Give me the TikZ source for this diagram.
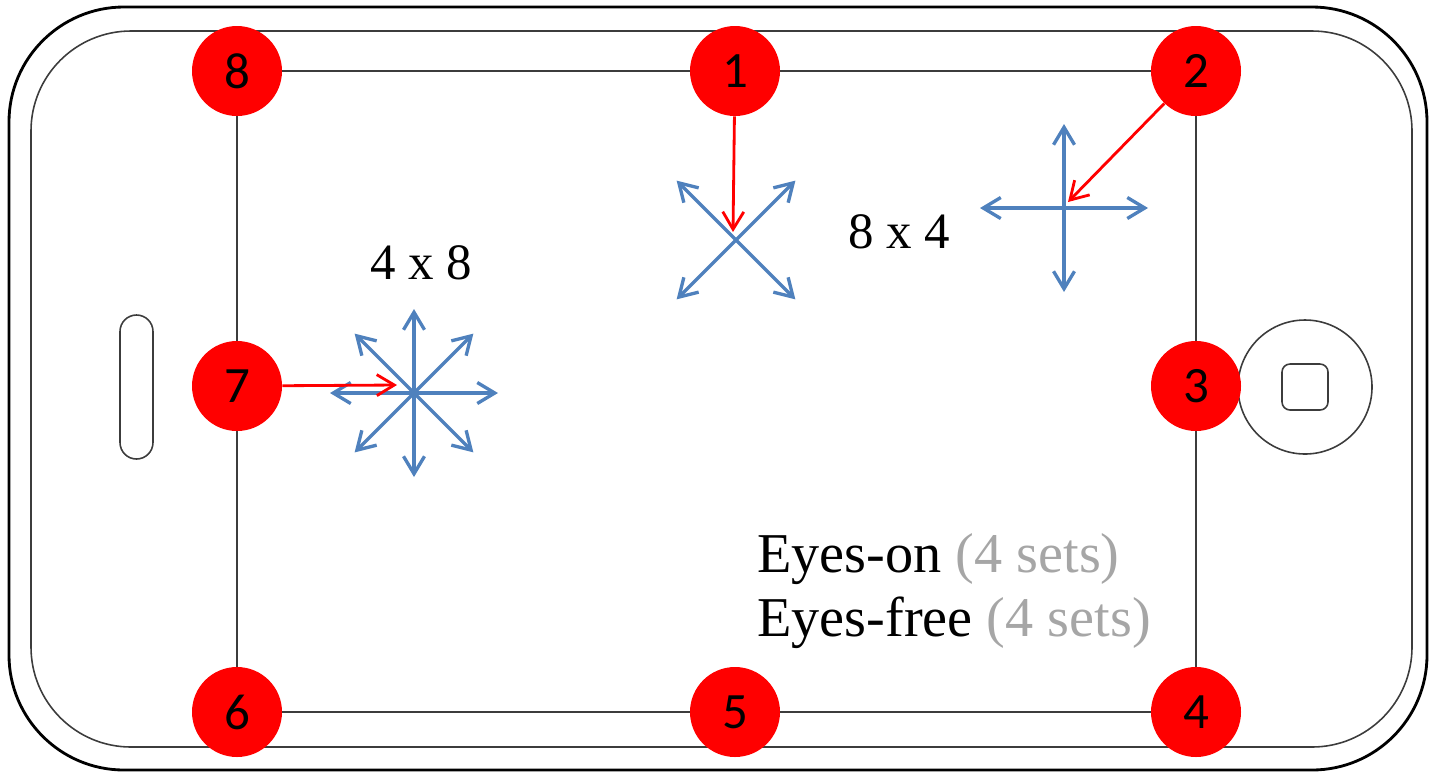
\documentclass[tikz,border=0pt]{standalone}
\usepackage{fontspec}
\setmainfont{Liberation Serif}
\newfontfamily\numfont{Carlito}
\usepackage{tikz}
\usetikzlibrary{arrows.meta}
\definecolor{dotred}{RGB}{255, 0, 0}
\definecolor{dirblue}{RGB}{79, 129, 189}
\definecolor{setgray}{RGB}{166, 166, 166}
\definecolor{caseline}{RGB}{60, 60, 60}

\begin{document}
\begin{tikzpicture}[x=0.2mm, y=-0.2mm,
  spot/.style={circle, fill=dotred, minimum size=18mm, inner sep=0pt, font=\numfont\fontsize{29}{29}\selectfont},
  dirarrow/.style={draw=dirblue, line width=1.9pt, {Straight Barb[length=3.5mm, width=4.2mm]}-{Straight Barb[length=3.5mm, width=4.2mm]}},
  hintarrow/.style={draw=dotred, line width=1.6pt, -{Straight Barb[length=3.5mm, width=4.2mm]}},
  sizetext/.style={inner sep=0pt, font=\fontsize{29}{34}\selectfont},
  eyetext/.style={inner sep=0pt, anchor=base west, font=\fontsize{32}{36}\selectfont}]
  \useasboundingbox (0,0) rectangle (1431,774);

  % phone body
  \draw[line width=1.6pt, rounded corners=23mm] (9,7) rectangle (1427,770);
  \draw[caseline, line width=0.9pt, rounded corners=20mm] (31,31) rectangle (1412,747);
  \draw[caseline, line width=0.9pt, rounded corners=3.3mm] (120,315) rectangle (153,459);
  \node[circle, draw=caseline, line width=0.9pt, minimum size=26.8mm, inner sep=0pt] (home) at (1305,387) {};
  \node[draw=caseline, line width=0.9pt, rounded corners=1.6mm, minimum size=9.2mm, inner sep=0pt] (homekey) at (home) {};

  % screen
  \draw[caseline, line width=1.1pt] (237,71) rectangle (1196,712);

  % starting spots
  \node[spot] (c1) at (735,71) {1};
  \node[spot] (c2) at (1196,71) {2};
  \node[spot] (c3) at (1196,386) {3};
  \node[spot] (c4) at (1196,712) {4};
  \node[spot] (c5) at (735,712) {5};
  \node[spot] (c6) at (237,712) {6};
  \node[spot] (c7) at (237,386) {7};
  \node[spot] (c8) at (237,71) {8};

  % direction sets
  \coordinate (sX) at (736,240);
  \coordinate (sPlus) at (1064,208);
  \coordinate (sStar) at (414,393);
  \foreach \a in {45,135}
    \draw[dirarrow] (sX) ++(\a:84) -- ++(\a+180:168);
  \foreach \a in {0,90}
    \draw[dirarrow] (sPlus) ++(\a:84) -- ++(\a+180:168);
  \foreach \a in {0,45,90,135}
    \draw[dirarrow] (sStar) ++(\a:84) -- ++(\a+180:168);

  % which spot feeds which set
  \coordinate (t1) at (733,232);
  \coordinate (t2) at (1068,202);
  \coordinate (t7) at (397,385);
  \draw[hintarrow] (c1) -- (t1);
  \draw[hintarrow] (c2) -- (t2);
  \draw[hintarrow] (c7) -- (t7);

  % labels
  \node[sizetext, anchor=base] (dimA) at (421,279) {4 x 8};
  \node[sizetext, anchor=base] (dimB) at (899,248) {8 x 4};
  \node[eyetext] (eyeson) at (757,572) {Eyes-on \textcolor{setgray}{(4 sets)}};
  \node[eyetext] (eyesfree) at (757,636) {Eyes-free \textcolor{setgray}{(4 sets)}};
\end{tikzpicture}
\end{document}
